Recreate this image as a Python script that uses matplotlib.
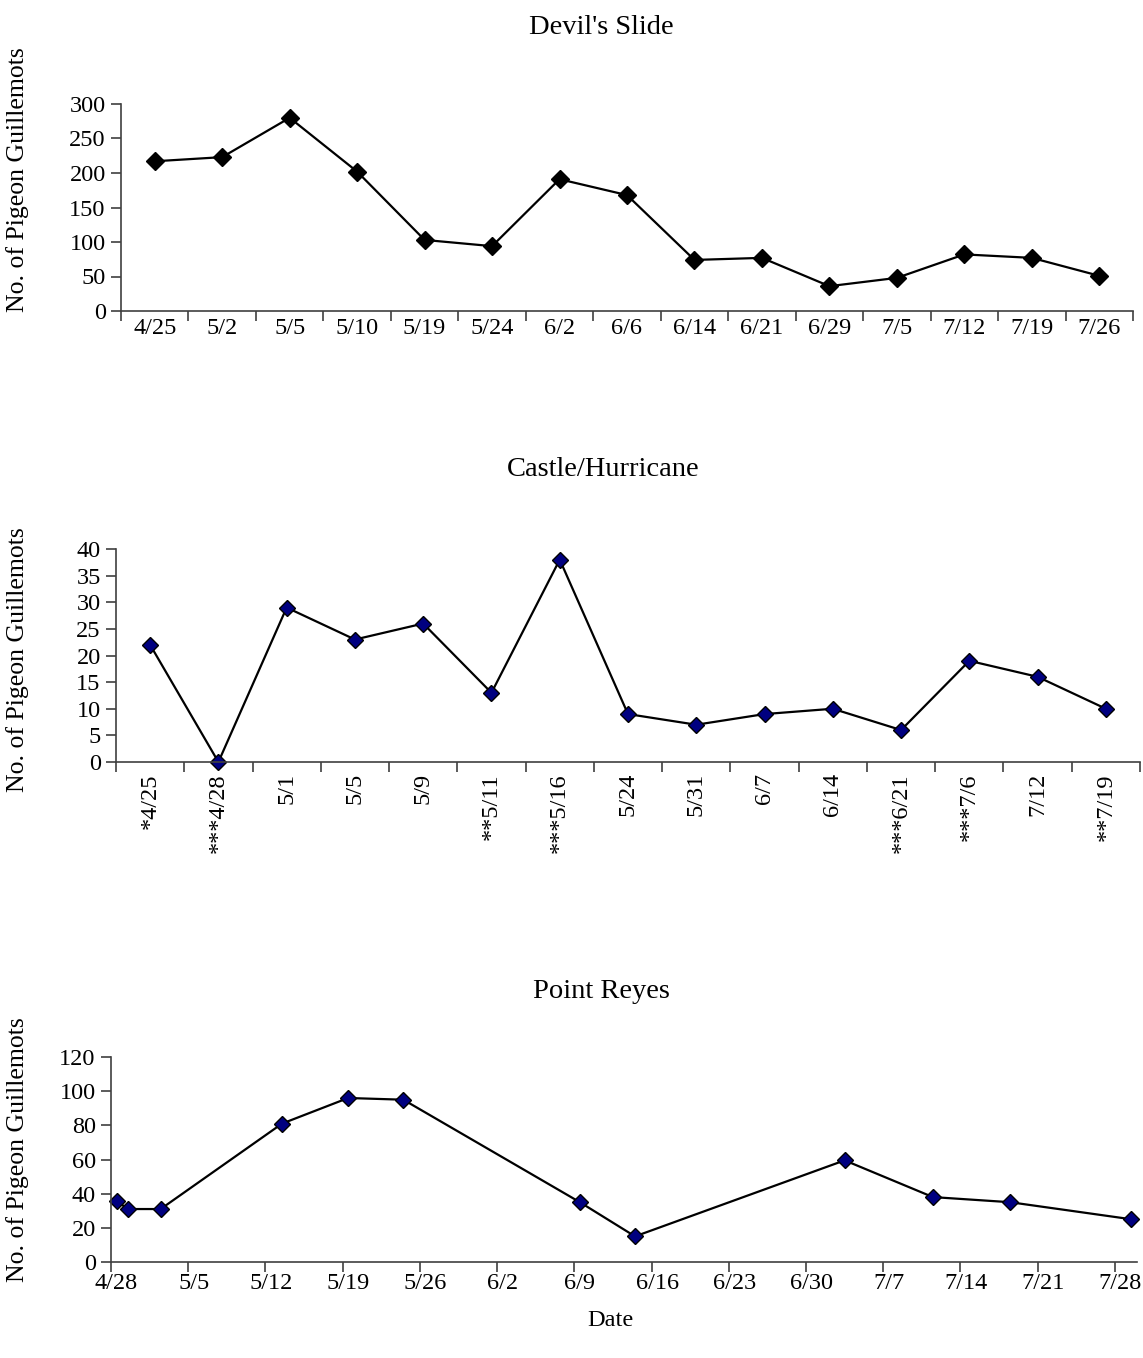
import matplotlib
matplotlib.use("Agg")
import matplotlib.pyplot as plt
import numpy as np
import pandas as pd

plt.rcParams['font.family'] = ['Liberation Serif', 'DejaVu Serif']

# Devil's Slide
ds_dates = ['4/25', '5/2', '5/5', '5/10', '5/19', '5/24', '6/2', '6/6', '6/14',
            '6/21', '6/29', '7/5', '7/12', '7/19', '7/26']
ds_counts = [217, 223, 280, 202, 103, 94, 191, 168, 74, 77, 36, 48, 82, 77, 51]

# Castle/Hurricane
ch_dates = ['*4/25', '***4/28', '5/1', '5/5', '5/9', '**5/11', '***5/16', '5/24',
            '5/31', '6/7', '6/14', '***6/21', '***7/6', '7/12', '**7/19']
ch_counts = [22, 0, 29, 23, 26, 13, 38, 9, 7, 9, 10, 6, 19, 16, 10]

# Point Reyes (date axis)
pr_dates = ['4/28', '4/29', '5/2', '5/13', '5/19', '5/24', '6/9', '6/14',
            '7/3', '7/11', '7/18', '7/29']
pr_counts = [36, 31, 31, 81, 96, 95, 35, 15, 59.5, 38, 35, 25]
pr_ticks = ['4/28', '5/5', '5/12', '5/19', '5/26', '6/2', '6/9', '6/16',
            '6/23', '6/30', '7/7', '7/14', '7/21', '7/28']

FS = 17.5
W, H = 1143, 1358
fig = plt.figure(figsize=(W / 100, H / 100), dpi=100)


def style(ax):
    for s in ['top', 'right']:
        ax.spines[s].set_visible(False)
    for s in ['left', 'bottom']:
        ax.spines[s].set_color('#404040')
        ax.spines[s].set_linewidth(1.2)
    ax.tick_params(axis='both', which='major', direction='out', length=7,
                   color='#404040', width=1.2, labelsize=FS)
    ax.tick_params(axis='y', which='major', pad=4)
    ax.tick_params(axis='x', which='minor', length=0, labelsize=FS)


def cat_axis(ax, labels, rot=0):
    n = len(labels)
    ax.set_xlim(-0.5, n - 0.5)
    ax.set_xticks(np.arange(n + 1) - 0.5)
    ax.set_xticklabels([])
    ax.set_xticks(np.arange(n), minor=True)
    ax.set_xticklabels(labels, minor=True, rotation=rot)
    ax.tick_params(axis='x', which='minor', pad=5 if rot == 0 else 8)


def axes_px(left, top, right, bottom):
    return fig.add_axes([left / W, 1 - bottom / H, (right - left) / W, (bottom - top) / H])


# --- Devil's Slide
ax1 = axes_px(121, 104, 1133, 311)
style(ax1)
x1 = np.arange(len(ds_dates))
ax1.plot(x1, ds_counts, color='black', lw=1.6, marker='D', ms=9,
         mfc='black', mec='black', clip_on=False)
cat_axis(ax1, ds_dates)
ax1.set_ylim(0, 300)
ax1.set_yticks(np.arange(0, 301, 50))

# --- Castle/Hurricane
ax2 = axes_px(116, 549, 1140, 762)
style(ax2)
x2 = np.arange(len(ch_dates))
ax2.plot(x2, ch_counts, color='black', lw=1.6, marker='D', ms=8,
         mfc='#000080', mec='black', mew=1.0, clip_on=False)
cat_axis(ax2, ch_dates, rot=90)
ax2.set_ylim(0, 40)
ax2.set_yticks(np.arange(0, 41, 5))

# --- Point Reyes
ax3 = axes_px(111, 1057, 1137, 1262)
style(ax3)
year = '2003/'
start = pd.Timestamp(year + '4/28')
pr_x = [(pd.Timestamp(year + d) - start).days + 0.5 for d in pr_dates]
tick_x = [(pd.Timestamp(year + d) - start).days for d in pr_ticks]
ax3.plot(pr_x, pr_counts, color='black', lw=1.6, marker='D', ms=8,
         mfc='#000080', mec='black', mew=1.0, clip_on=False)
end = (pd.Timestamp(year + '7/30') - start).days
ax3.set_xlim(0, end)
ax3.set_xticks(tick_x)
ax3.set_xticklabels([])
ax3.set_xticks([t + 0.5 for t in tick_x], minor=True)
ax3.set_xticklabels(pr_ticks, minor=True)
ax3.tick_params(axis='x', which='minor', pad=8)
ax3.set_ylim(0, 120)
ax3.set_yticks(np.arange(0, 121, 20))

# titles and labels
fig.text(601 / W, 1 - 27 / H, "Devil's Slide", ha='center', va='center', fontsize=20.5)
fig.text(603 / W, 1 - 470 / H, 'Castle/Hurricane', ha='center', va='center', fontsize=20.5)
fig.text(601 / W, 1 - 992 / H, 'Point Reyes', ha='center', va='center', fontsize=20.5)
fig.text(610 / W, 1 - 1321 / H, 'Date', ha='center', va='center', fontsize=17.5)
for yc in [180, 660, 1150]:
    fig.text(18 / W, 1 - yc / H, 'No. of Pigeon Guillemots', rotation=90,
             ha='center', va='center', fontsize=18.5)

fig.savefig('out.png', dpi=100)
